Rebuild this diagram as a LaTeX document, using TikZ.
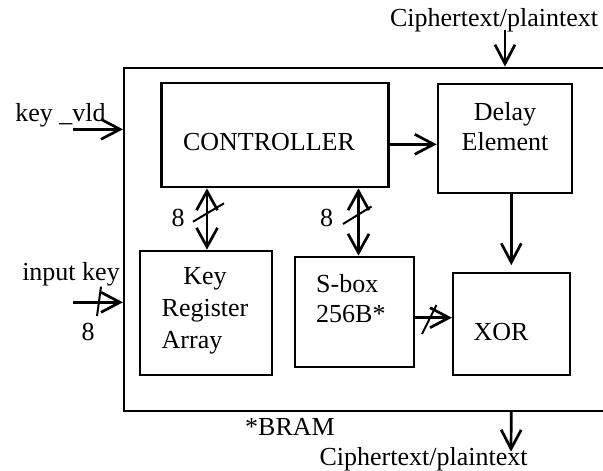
\documentclass[tikz,border=0pt]{standalone}
\usepackage{fontspec}
\setmainfont{Liberation Serif}
\usetikzlibrary{arrows.meta}
\begin{document}
\begin{tikzpicture}[x=1pt,y=-1pt,
  blk/.style={draw,line width=2.2pt,inner sep=0,minimum width=#1},
  txt/.style={inner sep=0,font=\fontsize{26}{31}\selectfont},
  link/.style={line width=2.7pt,-{Straight Barb[length=19pt,width=20pt]}},
  both/.style={line width=2.7pt,{Straight Barb[length=19pt,width=21pt]}-{Straight Barb[length=19pt,width=21pt]}},
  bus/.style={line width=2pt}]
\useasboundingbox (0,0) rectangle (603,471);

% enclosing block (runs past the right edge)
\node[blk=526pt,minimum height=343pt] (bram) at (387,239.2) {};

% functional blocks
\node[blk=227pt,minimum height=104pt] (ctrl) at (275,135.3) {};
\node[blk=134.3pt,minimum height=108.4pt] (delay) at (504.9,138.5) {};
\node[blk=132.7pt,minimum height=124.3pt] (keyreg) at (206,312.9) {};
\node[blk=118.8pt,minimum height=110pt] (sbox) at (354.4,311.7) {};
\node[blk=116.6pt,minimum height=102pt] (xor) at (511.3,324.3) {};

% block texts
\node[txt,anchor=base] (tctrl) at (269,150) {CONTROLLER};
\node[txt,anchor=base] (tdelay1) at (505,120) {Delay};
\node[txt,anchor=base] (tdelay2) at (505,150.7) {Element};
\node[txt,anchor=base] (tkey1) at (205,284.3) {Key};
\node[txt,anchor=base west] (tkey2) at (161.5,316) {Register};
\node[txt,anchor=base west] (tkey3) at (161.5,348.3) {Array};
\node[txt,anchor=base west] (tsbox1) at (316,292.3) {S-box};
\node[txt,anchor=base west] (tsbox2) at (316,322.3) {256B*};
\node[txt,anchor=base] (txor) at (501,340) {XOR};
\node[txt,anchor=base] (tbram) at (290,435) {*BRAM};

% external labels
\node[txt,anchor=base] (lin) at (494,26.7) {Ciphertext/plaintext};
\node[txt,anchor=base] (lout) at (423.5,465) {Ciphertext/plaintext};
\node[txt,anchor=base] (lvld) at (60.5,121) {key \_vld};
\node[txt,anchor=base] (lkey) at (71,280) {input key};
\node[txt,anchor=base] (w1) at (88,340.7) {8};
\node[txt,anchor=base] (w2) at (178,226.7) {8};
\node[txt,anchor=base] (w3) at (326.7,226.7) {8};

% connector end points and rows
\coordinate (cin) at (505,30);
\coordinate (cout) at (511,451.7);
\coordinate (kv) at (73,129.3);
\coordinate (ik) at (73,302.3);
\coordinate (r1) at (0,144.3);
\coordinate (r2) at (0,317.7);
\coordinate (c1) at (207,0);
\coordinate (c2) at (358.5,0);

% connectors
\draw[link] (cin) -- (cin |- bram.north);
\draw[link] (kv) -- (bram.west |- kv);
\draw[link] (ik) -- (bram.west |- ik);
\draw[link] (ctrl.east |- r1) -- (delay.west |- r1);
\draw[both] (ctrl.south -| c1) -- (keyreg.north -| c1);
\draw[both] (ctrl.south -| c2) -- (sbox.north -| c2);
\draw[link,shorten >=7pt] (xor.north |- delay.south) -- (xor.north);
\draw[link] (sbox.east |- r2) -- (xor.west |- r2);
\draw[link] (xor.center |- bram.south) -- (cout);

% bus-width slashes
\draw[bus] (97,316) -- (101,286.7);
\draw[bus] (193,221.7) -- (224,203.3);
\draw[bus] (343,224) -- (371.5,206.5);
\draw[bus] (422,334) -- (436.5,305);
\end{tikzpicture}
\end{document}
